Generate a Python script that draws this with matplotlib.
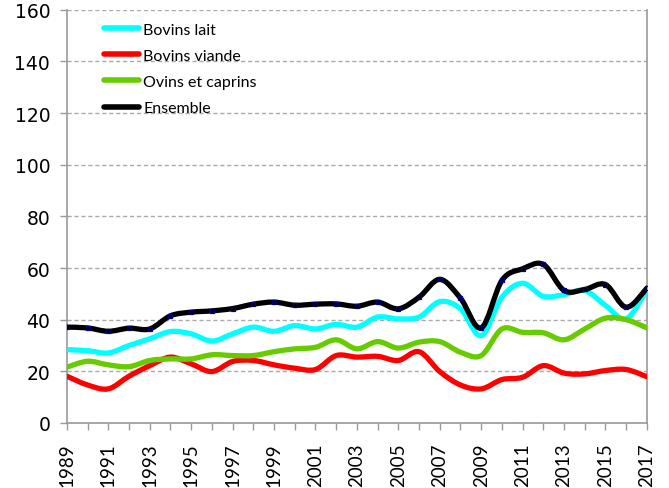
import numpy as np
import matplotlib.pyplot as plt
from matplotlib.path import Path
from matplotlib.patches import PathPatch

years = np.arange(1989, 2018)

bovins_lait = [28.4, 28.0, 27.1, 30.0, 32.6, 35.4, 34.5, 31.7, 34.5, 37.1,
               35.5, 37.7, 36.4, 38.2, 37.1, 41.0, 40.3, 41.0, 47.0, 44.2,
               33.8, 48.7, 54.1, 49.0, 49.7, 51.3, 45.5, 40.3, 51.5]
bovins_viande = [18.1, 14.7, 13.2, 18.1, 22.2, 25.5, 22.9, 19.9, 23.8, 24.2,
                 22.5, 21.2, 20.7, 26.1, 25.5, 25.8, 24.2, 27.6, 19.9, 14.7,
                 13.2, 16.8, 17.7, 22.2, 19.3, 19.0, 20.3, 20.7, 17.9]
ovins_caprins = [21.6, 23.9, 22.5, 21.8, 24.2, 24.8, 24.8, 26.4, 26.1, 26.1,
                 27.6, 28.7, 29.3, 32.2, 28.7, 31.5, 29.0, 31.3, 31.5, 27.4,
                 26.1, 36.4, 35.1, 34.9, 32.2, 36.4, 40.6, 40.0, 36.8]
ensemble = [37.1, 36.8, 35.5, 36.7, 36.4, 41.5, 42.9, 43.4, 44.3, 46.0,
            46.8, 45.6, 46.0, 46.1, 45.2, 46.8, 44.2, 48.7, 55.6, 48.3,
            36.8, 55.2, 59.7, 61.4, 51.3, 51.7, 53.6, 44.8, 52.2]

series = [
    ("Bovins lait", bovins_lait, "#00ffff"),
    ("Bovins viande", bovins_viande, "#ff0000"),
    ("Ovins et caprins", ovins_caprins, "#66cc00"),
    ("Ensemble", ensemble, "#000000"),
]


def smooth_path(x, y):
    # excel-like smoothed line: cubic bezier, control points at 1/6 of neighbours
    x = np.asarray(x, float)
    y = np.asarray(y, float)
    n = len(x)
    verts = [(x[0], y[0])]
    codes = [Path.MOVETO]
    for i in range(n - 1):
        x0, y0 = (x[i - 1], y[i - 1]) if i > 0 else (x[i], y[i])
        x3, y3 = (x[i + 2], y[i + 2]) if i + 2 < n else (x[i + 1], y[i + 1])
        c1 = (x[i] + (x[i + 1] - x0) / 6, y[i] + (y[i + 1] - y0) / 6)
        c2 = (x[i + 1] - (x3 - x[i]) / 6, y[i + 1] - (y3 - y[i]) / 6)
        verts += [c1, c2, (x[i + 1], y[i + 1])]
        codes += [Path.CURVE4] * 3
    return Path(verts, codes)


plt.rcParams['font.family'] = ['Lato', 'DejaVu Sans']

fig = plt.figure(figsize=(6.69, 4.89), dpi=100)
ax = fig.add_axes([0.100, 0.133, 0.867, 0.845])

for name, vals, col in series:
    ax.add_patch(PathPatch(smooth_path(years, vals), facecolor='none',
                           edgecolor=col, lw=3.8, capstyle='round',
                           joinstyle='round', zorder=3))
    # empty line just for the legend handle
    ax.plot([], [], color=col, lw=4, solid_capstyle='round', label=name)

ax.plot(years, ensemble, ls='none', marker='s', ms=3.2, mfc='none',
        mec='#000080', mew=0.9, zorder=4)

ax.set_xlim(1989, 2017)
ax.set_ylim(0, 160)
ax.set_yticks(np.arange(0, 161, 20))
ax.set_xticks(years, minor=True)
ax.set_xticks(years[::2])
ax.set_xticklabels([str(y) for y in years[::2]], rotation=90, fontsize=13.5)
for lab in ax.get_yticklabels():
    lab.set_fontfamily('DejaVu Sans')
    lab.set_fontsize(13.5)
ax.tick_params(axis='both', which='both', direction='out', color='#999999',
               width=1)
ax.tick_params(axis='x', which='both', length=5, pad=9)
ax.tick_params(axis='y', length=5, pad=7)

ax.grid(axis='y', ls=(0, (3, 2)), color='#aaaaaa', lw=1)
ax.set_axisbelow(True)
for s in ['left', 'bottom', 'right']:
    ax.spines[s].set_color('#999999')
    ax.spines[s].set_linewidth(1.2)
ax.spines['top'].set_visible(False)

ax.legend(loc='upper left', bbox_to_anchor=(0.042, 1.0), frameon=False,
          fontsize=11.5, handlelength=2.2, handletextpad=0.25,
          labelspacing=0.75, borderaxespad=0.4)

fig.savefig('out.png', dpi=100)
